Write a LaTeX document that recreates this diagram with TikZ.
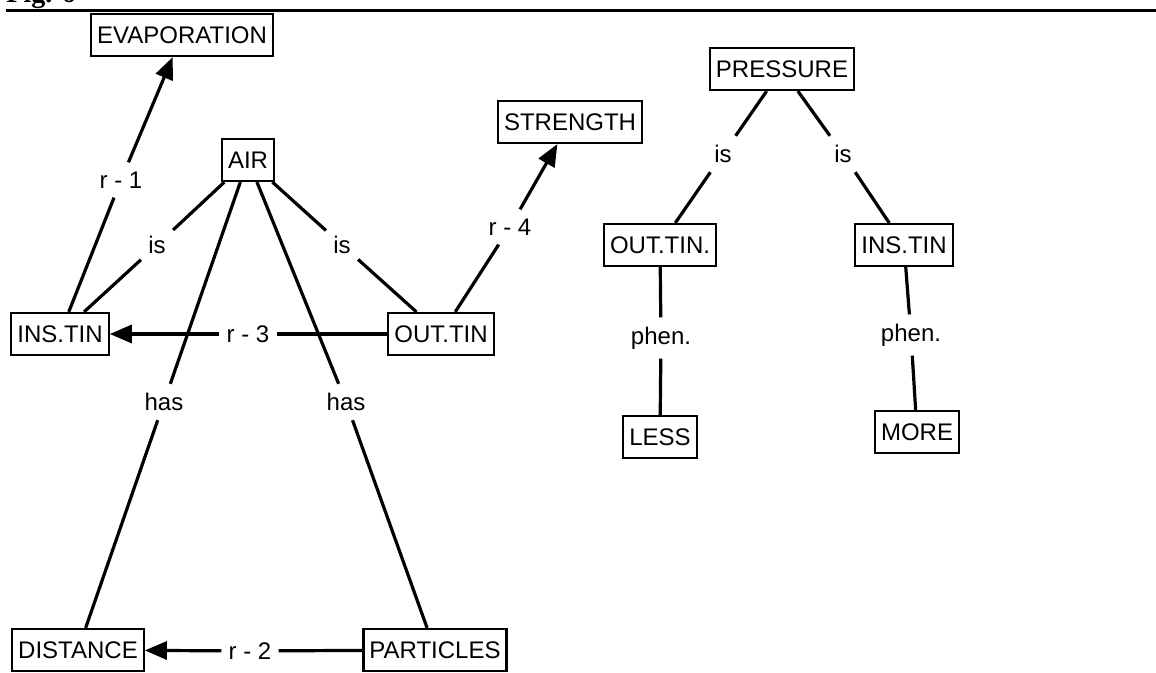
\documentclass[tikz,border=0pt]{standalone}
\usepackage{fontspec}
\setmainfont{Liberation Sans}
\newfontfamily\capfont{Liberation Serif}
\usetikzlibrary{arrows.meta}
\tikzset{
  concept/.style={draw,line width=1.1pt,inner xsep=3pt,minimum height=21pt,font=\fontsize{12}{14}\selectfont},
  link/.style={inner xsep=3.5pt,inner ysep=4.5pt,font=\fontsize{12}{14}\selectfont},
  ln/.style={line width=1.6pt},
  lnarr/.style={line width=1.6pt,-{Triangle[length=11pt,width=9pt]}},
}

\begin{document}
\begin{tikzpicture}[x=0.5pt,y=-0.5pt]
\useasboundingbox (0,0) rectangle (1156,673);
% caption and rule
\node[anchor=base west,inner sep=0pt,font=\capfont\bfseries\fontsize{14}{16}\selectfont] (figno) at (6,3) {Fig. 6};
\draw[line width=1.5pt] (6,10.5) -- (1156,10.5);
% concepts
\node[concept] (n_evap) at (182,35) {EVAPORATION};
\node[concept] (n_air) at (248,160) {AIR};
\node[concept] (n_ins) at (60,334) {INS.TIN};
\node[concept] (n_out) at (441,334) {OUT.TIN};
\node[concept] (n_str) at (570,122) {STRENGTH};
\node[concept] (n_dist) at (78,650) {DISTANCE};
\node[concept] (n_part) at (435,650) {PARTICLES};
\node[concept] (n_pres) at (782,69) {PRESSURE};
\node[concept] (n_outp) at (660,245) {OUT.TIN.};
\node[concept] (n_insp) at (904,245) {INS.TIN};
\node[concept] (n_less) at (660,437) {LESS};
\node[concept] (n_more) at (917,432) {MORE};
% link words
\node[link] (l_r1) at (121,180) {r - 1};
\node[link] (l_is1) at (157,245) {is};
\node[link] (l_is2) at (342,245) {is};
\node[link] (l_r3) at (248,334) {r - 3};
\node[link] (l_r4) at (510,227) {r - 4};
\node[link] (l_has1) at (164,402) {has};
\node[link] (l_has2) at (346,402) {has};
\node[link] (l_r2) at (250,651) {r - 2};
\node[link] (l_is3) at (723,154) {is};
\node[link] (l_is4) at (843,154) {is};
\node[link] (l_ph1) at (661,338) {phen.};
\node[link] (l_ph2) at (911,335) {phen.};
% links
\draw[ln] (n_ins) -- (l_r1);
\draw[lnarr] (l_r1) -- (n_evap);
\draw[ln] (n_air) -- (l_is1);
\draw[ln] (l_is1) -- (n_ins);
\draw[ln] (n_air) -- (l_is2);
\draw[ln] (l_is2) -- (n_out);
\draw[ln] (n_out) -- (l_r3);
\draw[lnarr] (l_r3) -- (n_ins);
\draw[ln] (n_out) -- (l_r4);
\draw[lnarr] (l_r4) -- (n_str);
\draw[ln] (n_air) -- (l_has1);
\draw[ln] (l_has1) -- (n_dist);
\draw[ln] (n_air) -- (l_has2);
\draw[ln] (l_has2) -- (n_part);
\draw[ln] (n_part) -- (l_r2);
\draw[lnarr] (l_r2) -- (n_dist);
\draw[ln] (n_pres) -- (l_is3);
\draw[ln] (l_is3) -- (n_outp);
\draw[ln] (n_pres) -- (l_is4);
\draw[ln] (l_is4) -- (n_insp);
\draw[ln] (n_outp) -- (l_ph1);
\draw[ln] (l_ph1) -- (n_less);
\draw[ln] (n_insp) -- (l_ph2);
\draw[ln] (l_ph2) -- (n_more);
\end{tikzpicture}
\end{document}
